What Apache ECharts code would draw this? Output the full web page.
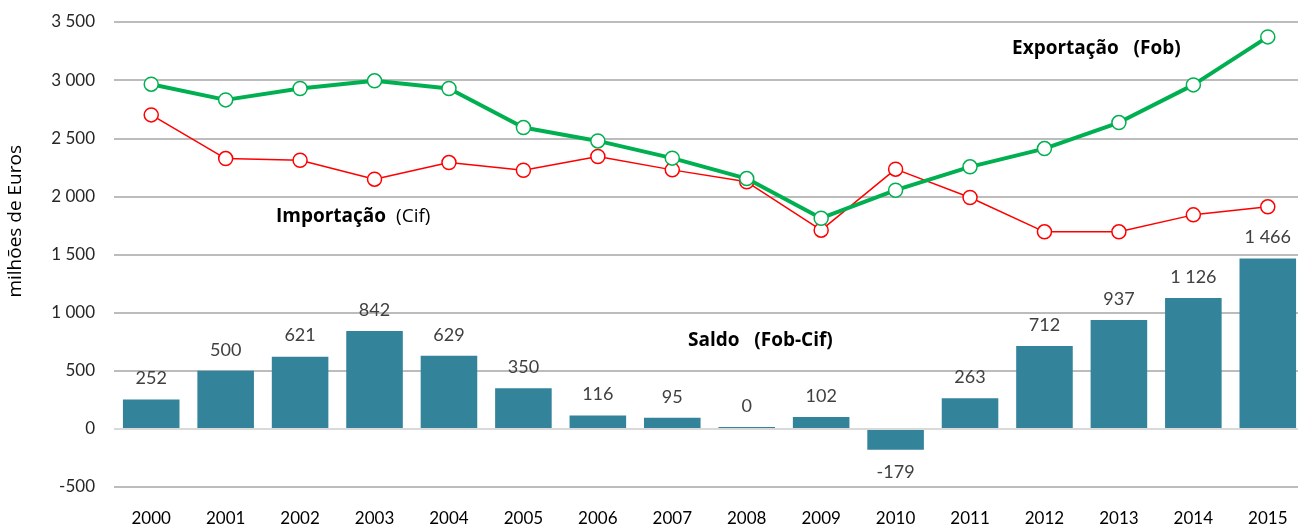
<!DOCTYPE html>
<html>
<head>
<meta charset="utf-8">
<script src="https://cdn.jsdelivr.net/npm/echarts@6/dist/echarts.min.js"></script>
<style>
  html, body { margin: 0; padding: 0; background: #fff; }
  #chart { width: 1298px; height: 531px; }
</style>
</head>
<body>
<div id="chart"></div>
<script>
  // anos
  const years = ['2000','2001','2002','2003','2004','2005','2006','2007','2008','2009','2010','2011','2012','2013','2014','2015']
  // Exportação (Fob), milhões de euros
  const exportacao = [2965, 2830, 2928, 2994, 2928, 2592, 2477, 2329, 2153, 1812, 2053, 2254, 2411, 2635, 2959, 3372]
  // Importação (Cif)
  const importacao = [2701, 2325, 2311, 2148, 2291, 2225, 2343, 2228, 2125, 1709, 2234, 1990, 1695, 1695, 1841, 1910]
  // Saldo (Fob-Cif)
  const saldo = [252, 500, 621, 842, 629, 350, 116, 95, 0, 102, -179, 263, 712, 937, 1126, 1466]
  const yTicks = { min: -500, max: 3500, interval: 500 }

  const fmt = v => String(v).replace(/\B(?=(\d{3})+(?!\d))/g, ' ')
  const font = 'Lato, "Open Sans", sans-serif'
  const wide = '"Open Sans", Lato, sans-serif'

  const chart = echarts.init(document.getElementById('chart'))
  const option = {
    backgroundColor: '#fff',
    animation: false,
    grid: { left: 114, top: 22, width: 1191, height: 465, containLabel: false, outerBoundsMode: 'none' },
    xAxis: {
      type: 'category',
      data: years,
      axisLine: { show: false, onZero: false },
      axisTick: { show: false },
      axisLabel: { margin: 23, fontSize: 17, color: '#000', fontFamily: font }
    },
    yAxis: {
      type: 'value',
      min: yTicks.min,
      max: yTicks.max,
      interval: yTicks.interval,
      axisLine: { show: false },
      axisTick: { show: false },
      splitLine: { lineStyle: { color: '#bcbcbc', width: 2 } },
      axisLabel: { margin: 19, fontSize: 17, color: '#262626', fontFamily: font, formatter: fmt }
    },
    series: [
      {
        name: 'Saldo (Fob-Cif)',
        type: 'bar',
        barCategoryGap: '24%',
        barMinHeight: 2,
        itemStyle: { color: '#33849b' },
        label: {
          show: true,
          position: 'top',
          distance: 12,
          fontSize: 18,
          color: '#404040',
          fontFamily: font,
          formatter: p => fmt(p.value)
        },
        data: saldo.map(v => v < 0 ? { value: v, label: { position: 'bottom', distance: 14 } } : v),
        markLine: {
          silent: true,
          symbol: 'none',
          label: { show: false },
          lineStyle: { color: '#d9d9d9', width: 2, type: 'solid' },
          data: [{ yAxis: 0 }]
        },
        z: 2
      },
      {
        name: 'Importação (Cif)',
        type: 'line',
        data: importacao,
        symbol: 'circle',
        symbolSize: 14,
        lineStyle: { color: '#ff0000', width: 1.5 },
        itemStyle: { color: '#fff', borderColor: '#ff0000', borderWidth: 1.5 },
        z: 3
      },
      {
        name: 'Exportação (Fob)',
        type: 'line',
        data: exportacao,
        symbol: 'circle',
        symbolSize: 14,
        lineStyle: { color: '#00b050', width: 4 },
        itemStyle: { color: '#fff', borderColor: '#00b050', borderWidth: 1.5 },
        z: 4
      }
    ],
    // textos do gráfico
    graphic: [
      {
        type: 'text', left: 6, top: 145, rotation: Math.PI / 2,
        style: { text: 'milhões de Euros', fontSize: 19, fill: '#000', fontFamily: wide }
      },
      {
        type: 'text', left: 1012, top: 39,
        style: { text: 'Exportação   (Fob)', fontSize: 19, fontWeight: 'bold', fill: '#000', fontFamily: wide }
      },
      {
        type: 'text', left: 276, top: 207,
        style: {
          text: '{b|Importação}   {n|(Cif)}',
          rich: {
            b: { fontSize: 19, fontWeight: 'bold', fill: '#000', fontFamily: wide },
            n: { fontSize: 19, fill: '#000', fontFamily: wide }
          }
        }
      },
      {
        type: 'text', left: 688, top: 331,
        style: { text: 'Saldo   (Fob-Cif)', fontSize: 19, fontWeight: 'bold', fill: '#000', fontFamily: wide }
      }
    ]
  }
  chart.setOption(option)
</script>
</body>
</html>
